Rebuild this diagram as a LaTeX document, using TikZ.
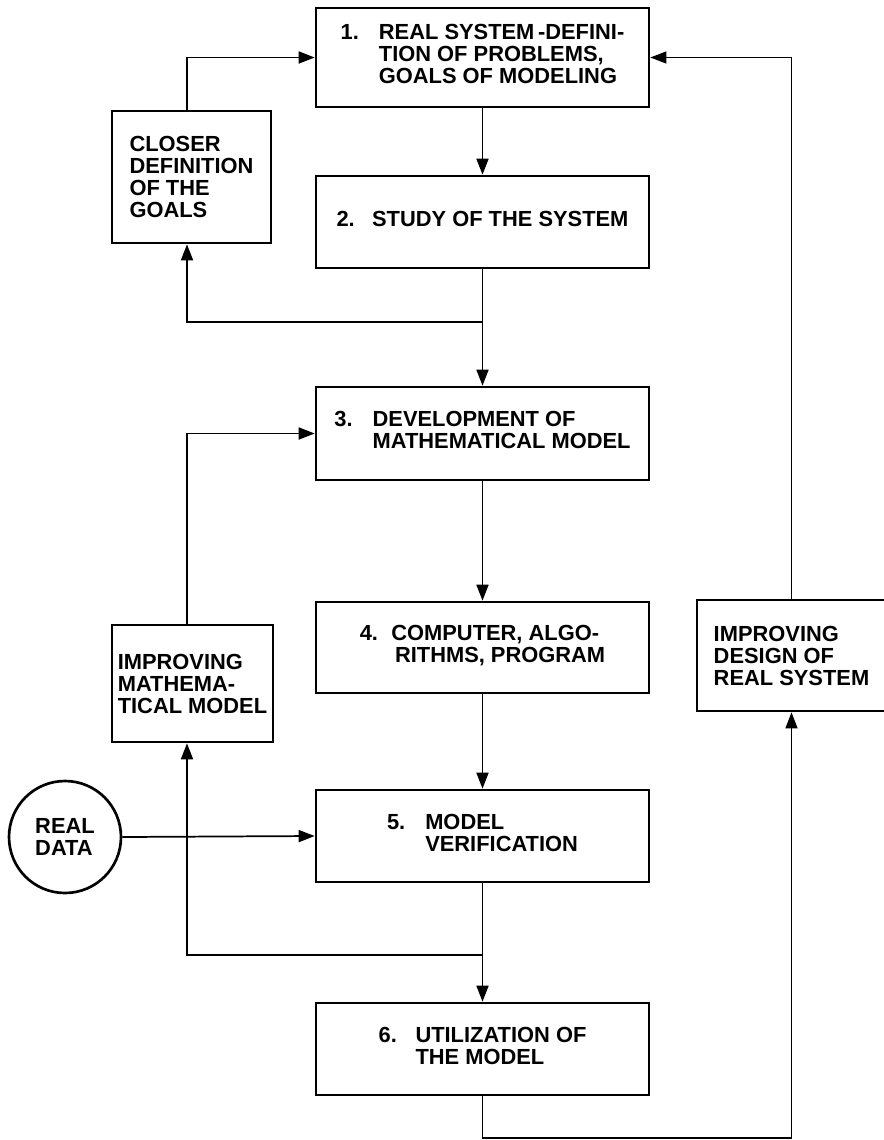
\documentclass[tikz,border=0pt]{standalone}
\usepackage{fontspec}
\setmainfont{Liberation Sans}
\usetikzlibrary{arrows.meta}
\begin{document}
\begin{tikzpicture}[x=0.75pt,y=-0.75pt,
  txt/.style={font=\fontsize{16.4}{16.5}\selectfont\bfseries},
  box/.style={draw,line width=2pt,rectangle,inner sep=0pt,align=left,txt},
  mainbox/.style={box,minimum width=249.75pt},
  tip/.style={-{Triangle[length=12pt,width=9pt]}},
  conn/.style={line width=1.3pt,tip},
  thinconn/.style={line width=0.9pt,tip}]
\useasboundingbox (0,0) rectangle (884,1140);
\fill[white] (0,0) rectangle (884,1140);

% main column
\node[mainbox,minimum height=74.25pt] (b1) at (482.5,57.5)
  {\begin{tabular}{@{}l@{\hspace{15pt}}l@{}}1.&REAL SYSTEM\,-DEFINI-\\&TION OF PROBLEMS,\\&GOALS OF MODELING\end{tabular}};
\node[mainbox,minimum height=69pt] (b2) at (482.5,222)
  {\begin{tabular}{@{}l@{\hspace{13pt}}l@{}}2.&STUDY OF THE SYSTEM\end{tabular}};
\node[mainbox,minimum height=69.75pt] (b3) at (482.5,433.5)
  {\begin{tabular}{@{}l@{\hspace{15pt}}l@{}}3.&DEVELOPMENT OF\\&MATHEMATICAL MODEL\end{tabular}};
\node[mainbox,minimum height=68.25pt] (b4) at (482.5,647.5)
  {\begin{tabular}{@{}l@{\hspace{10pt}}l@{}}4.&COMPUTER, ALGO-\\&\,RITHMS, PROGRAM\end{tabular}};
\node[mainbox,minimum height=69pt] (b5) at (482.5,836)
  {\begin{tabular}{@{}l@{\hspace{15pt}}l@{}}5.&MODEL\\&VERIFICATION\end{tabular}};
\node[mainbox,minimum height=69pt] (b6) at (482.5,1049)
  {\begin{tabular}{@{}l@{\hspace{14pt}}l@{}}6.&UTILIZATION OF\\&THE MODEL\end{tabular}};

% side boxes
\node[box,minimum width=119.25pt,minimum height=99pt] (closer) at (191.5,177)
  {CLOSER\\DEFINITION\\OF THE\\GOALS};
\node[box,minimum width=120.75pt,minimum height=87.75pt] (impmath) at (192.5,683.5)
  {IMPROVING\\MATHEMA-\\TICAL MODEL};
\node[box,minimum width=141.75pt,minimum height=83.25pt] (design) at (791.5,655.5)
  {IMPROVING\\DESIGN OF\\REAL SYSTEM};
\node[draw,circle,line width=2pt,minimum size=84pt,inner sep=0pt,align=left,txt] (rd) at (65,837)
  {REAL\\DATA};

% helper coordinates
\coordinate (j1) at (482.5,322);
\coordinate (l1) at (187,322);
\coordinate (j2) at (482.5,955);
\coordinate (l2) at (187,955);
\coordinate (br) at (791.5,1138);

% connectors
\draw[conn] (b1.south) -- (b2.north);
\draw[conn] (b2.south) -- (b3.north);
\draw[conn] (j1) -- (l1) -- (l1 |- closer.south);
\draw[conn] (l1 |- closer.north) |- (b1.west);
\draw[conn] (b3.south) -- (b4.north);
\draw[conn] (l2 |- impmath.north) |- (b3.west);
\draw[conn] (b4.south) -- (b5.north);
\draw[conn] (rd.east) -- (b5.west);
\draw[conn] (b5.south) -- (b6.north);
\draw[conn] (j2) -- (l2) -- (l2 |- impmath.south);
\draw[thinconn] (b6.south) |- (br) -- (design.south);
\draw[thinconn] (design.north) |- (b1.east);
\end{tikzpicture}
\end{document}
